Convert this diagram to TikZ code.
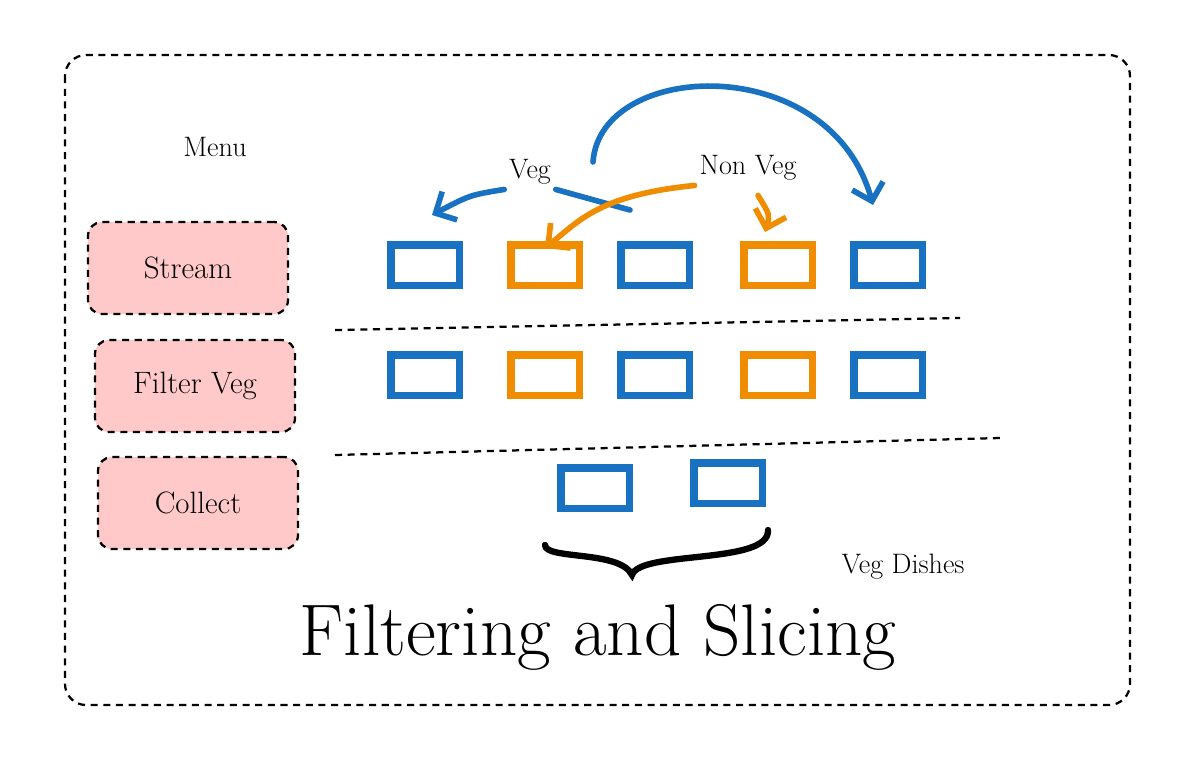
\documentclass[tikz,border=0pt]{standalone}
\usetikzlibrary{arrows.meta}
\definecolor{vegblue}{HTML}{1971C2}
\definecolor{nonveg}{HTML}{F08C00}
\definecolor{stagepink}{HTML}{FFC9C9}
\tikzset{
  stage/.style={draw=black, line width=1.6pt, dash pattern=on 5pt off 4pt, fill=stagepink, rounded corners=10pt, minimum width=5cm, minimum height=2.3cm, font=\fontsize{22}{26}\selectfont},
  dish/.style={draw=#1, line width=5pt, line cap=round, minimum width=1.7cm, minimum height=1cm},
  sep/.style={black, line width=1.6pt, dash pattern=on 5pt off 4pt},
  move/.style={line width=4pt, line cap=round, -{Straight Barb[length=4mm,width=8mm]}},
  tag/.style={font=\fontsize{20}{24}\selectfont}
}
\begin{document}
\begin{tikzpicture}[x=0.025cm, y=-0.025cm]
    \useasboundingbox (0,0) rectangle (1200,772);
    % cadre
    \draw[line width=1.6pt, dash pattern=on 5pt off 4pt, rounded corners=15pt] (65,55) rectangle (1130,705);
    \node[tag] (menu) at (215,147) {Menu};

    % etapes
    \node[stage] (stream) at (188,268) {Stream};
    \node[stage] (filter) at (195,386) {Filter Veg};
    \node[stage] (collect) at (198,503) {Collect};

    % plats
    \foreach \x/\c [count=\i] in {425/vegblue, 545/nonveg, 655/vegblue, 778/nonveg, 888/vegblue} {
        \node[dish=\c] (a\i) at (\x,265) {};
        \node[dish=\c] (b\i) at (\x,375) {};
    }
    \node[dish=vegblue] (c1) at (595,488) {};
    \node[dish=vegblue] (c2) at (728,483) {};

    % separations
    \draw[sep] (335,330) -- (960,318);
    \draw[sep] (335,455) -- (1000,438);

    % etiquettes
    \node[tag] (veg) at (530,172) {Veg};
    \node[tag] (nonv) at (748,168) {Non Veg};
    \node[tag] (dishes) at (903,567) {Veg Dishes};
    \node[font=\fontsize{52}{60}\selectfont] (title) at (598,637) {Filtering and Slicing};

    % fleches
    \coordinate (vegl) at (432,215);
    \coordinate (nvl) at (545,248);
    \coordinate (nvr) at (765,232);
    \draw[move, vegblue] (veg.south west) .. controls (470,195) .. (vegl);
    \draw[vegblue, line width=4pt, line cap=round] (veg.south east) -- (630,210);
    \draw[move, vegblue] (593,162) .. controls (600,60) and (830,50) .. (873,205);
    \draw[move, nonveg] (nonv.south west) .. controls (600,195) and (580,220) .. (nvl);
    \draw[move, nonveg] (nonv.south) ++(10,10) .. controls (770,215) .. (nvr);

    % accolade
    \draw[line width=4.5pt, line cap=round] (545,545) .. controls (545,560) and (620,550) .. (632,575)
        .. controls (640,550) and (770,565) .. (768,530);
\end{tikzpicture}
\end{document}
